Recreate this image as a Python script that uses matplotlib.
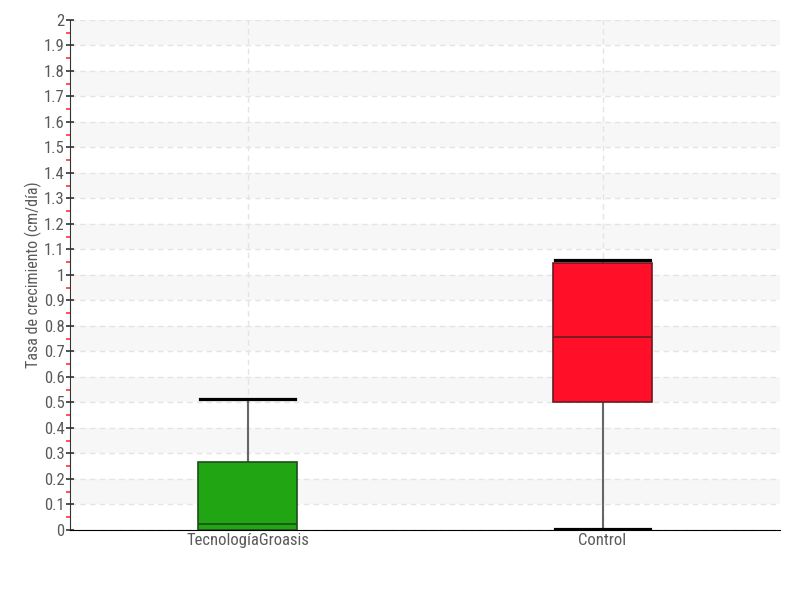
import matplotlib
matplotlib.use("Agg")
import matplotlib.pyplot as plt
from matplotlib import font_manager
import numpy as np

#Chart data
#--------------------------------------------------------
categories = ["TecnologíaGroasis", "Control"]
whislo = [0.0, 0.005]
q1 = [0.0, 0.5]
med = [0.024, 0.757]
q3 = [0.268, 1.047]
whishi = [0.512, 1.06]
box_colors = ["#22a512", "#ff0f28"]
edge_colors = ["#1f4d1a", "#6a1a22"]

#pick a narrow font if there is one
names = set(f.name for f in font_manager.fontManager.ttflist)
fams = [n for n in ['Liberation Sans Narrow', 'DejaVu Sans Condensed', 'Roboto Condensed', 'Roboto'] if n in names]
plt.rcParams['font.family'] = fams + ['DejaVu Sans']

fig = plt.figure(figsize=(8, 6), dpi=100)
ax = fig.add_axes([0.0875, 0.1167, 0.8875, 0.85])

#alternating bands
for y0 in np.arange(0.1, 2.0, 0.2):
    ax.axhspan(y0, y0 + 0.1, xmin=0.003, color="#f7f7f7", zorder=0, lw=0)

stats = []
for i in range(len(categories)):
    stats.append({"whislo": whislo[i], "q1": q1[i], "med": med[i],
                  "q3": q3[i], "whishi": whishi[i], "fliers": []})

bp = ax.bxp(stats, positions=range(len(categories)), widths=0.28,
            patch_artist=True, showfliers=False,
            whiskerprops=dict(color="#666666", lw=1.5, zorder=2),
            capprops=dict(color="black", lw=2.3, zorder=2),
            boxprops=dict(zorder=3),
            medianprops=dict(zorder=4),
            capwidths=0.27)
for i, box in enumerate(bp["boxes"]):
    box.set_facecolor(box_colors[i])
    box.set_edgecolor(edge_colors[i])
    box.set_linewidth(1.2)
for i, m in enumerate(bp["medians"]):
    m.set_color(edge_colors[i])
    m.set_linewidth(1.2)

ax.set_xlim(-0.5, 1.5)
ax.set_ylim(0, 2)
ax.set_xticks(range(len(categories)))
ax.set_xticklabels(categories)
yt = np.round(np.arange(0, 2.01, 0.1), 1)
ax.set_yticks(yt)
ax.set_yticklabels(["%g" % v for v in yt])
ax.set_yticks(np.arange(0.05, 2.0, 0.1), minor=True)

ax.grid(True, axis="both", which="major", ls=(0, (4, 3)), color="#e4e4e4", lw=1, zorder=1)
ax.set_axisbelow(True)

ax.spines["top"].set_visible(False)
ax.spines["right"].set_visible(False)
ax.spines["left"].set_color("#333333")
ax.spines["bottom"].set_color("black")

ax.tick_params(axis="y", which="major", length=6, direction="inout", color="#333333",
               width=1.2, labelsize=12, labelcolor="#5a5a5a", pad=1)
ax.tick_params(axis="y", which="minor", length=3, width=1.2, color="#ff3333")
ax.tick_params(axis="x", length=0, labelsize=12, labelcolor="#5a5a5a", pad=2)

ax.set_ylabel("Tasa de crecimiento (cm/día)", fontsize=11.5, color="#5a5a5a", labelpad=1)

fig.savefig("out.png", dpi=100)
